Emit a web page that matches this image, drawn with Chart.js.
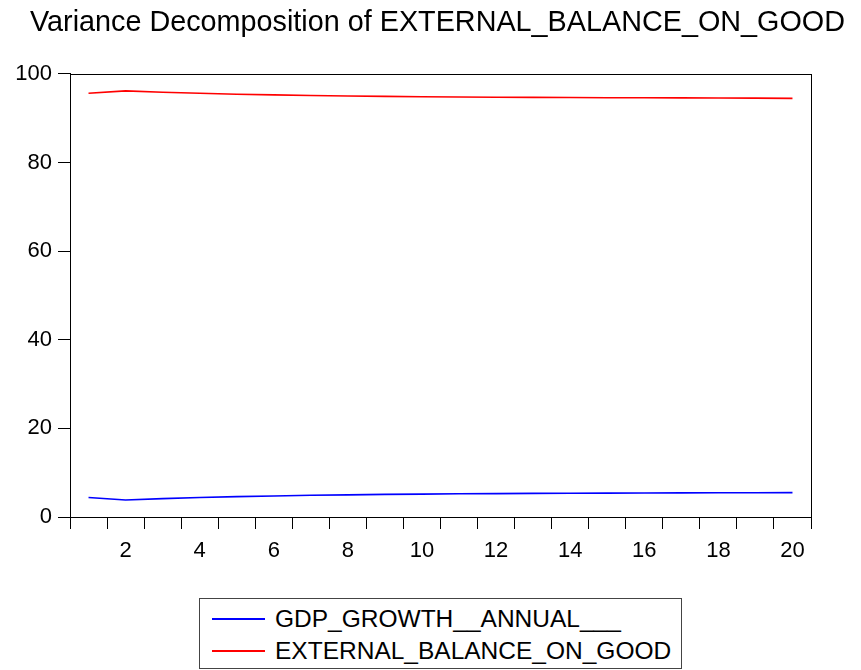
<!DOCTYPE html>
<html>
<head>
<meta charset="utf-8">
<script src="https://cdn.jsdelivr.net/npm/chart.js@4"></script>
<style>
  html, body { margin: 0; padding: 0; background: #fff; }
  #wrap { position: relative; width: 861px; height: 670px; }
  #legend { position: absolute; left: 199px; top: 598px; width: 481px; height: 69px;
            border: 1px solid #444; background: #fff; box-sizing: content-box;
            font-family: "Liberation Sans", Arial, sans-serif; font-size: 24.5px; color: #000; }
  .row { position: absolute; left: 0; height: 32px; line-height: 32px; white-space: nowrap; }
  .sample { position: absolute; left: 12px; top: 15px; width: 53px; height: 0; border-top: 2px solid; }
  .txt { position: absolute; left: 75px; top: 0; }
</style>
</head>
<body>
<div id="wrap">
  <canvas id="c" width="861" height="670"></canvas>
  <div id="legend"></div>
</div>
<script>
const chartTitle = "Variance Decomposition of EXTERNAL_BALANCE_ON_GOOD";
const periods = ["1","2","3","4","5","6","7","8","9","10","11","12","13","14","15","16","17","18","19","20"];
const seriesNames = ["GDP_GROWTH__ANNUAL___", "EXTERNAL_BALANCE_ON_GOOD"];
const seriesColors = ["#0000ff", "#ff0000"];
const gdpGrowth = [4.4, 3.85, 4.15, 4.4, 4.6, 4.75, 4.9, 5.0, 5.1, 5.17, 5.23, 5.28, 5.32, 5.36, 5.39, 5.42, 5.44, 5.46, 5.48, 5.5];
const externalBalance = [95.6, 96.15, 95.85, 95.6, 95.4, 95.25, 95.1, 95.0, 94.9, 94.83, 94.77, 94.72, 94.68, 94.64, 94.61, 94.58, 94.56, 94.54, 94.52, 94.45];
const yTicks = [0, 20, 40, 60, 80, 100];

const FONT = '"Liberation Sans", Arial, sans-serif';

const framePlugin = {
  id: 'frame',
  afterDatasetsDraw(chart) {
    const a = chart.chartArea, ctx = chart.ctx;
    ctx.save();
    ctx.strokeStyle = '#000';
    ctx.lineWidth = 1;
    ctx.strokeRect(Math.round(a.left) + 0.5, Math.round(a.top) + 0.5,
                   Math.round(a.right - a.left), Math.round(a.bottom - a.top));
    ctx.restore();
  }
};

const seriesData = [gdpGrowth, externalBalance];

new Chart(document.getElementById('c'), {
  type: 'line',
  data: {
    labels: periods,
    datasets: seriesNames.map((n, i) => ({
      label: n,
      data: seriesData[i],
      borderColor: seriesColors[i],
      backgroundColor: seriesColors[i],
      borderWidth: 1.6,
      pointRadius: 0,
      tension: 0,
      fill: false,
      yAxisID: 'y'
    }))
  },
  options: {
    responsive: false,
    animation: false,
    layout: { padding: { left: 30, right: 16, top: 0, bottom: 0 } },
    plugins: {
      legend: { display: false },
      tooltip: { enabled: false },
      title: {
        display: true,
        text: chartTitle,
        align: 'start',
        color: '#000',
        font: { family: FONT, size: 29, weight: 'normal' },
        padding: { top: 6, bottom: 33 }
      }
    },
    scales: {
      x: {
        type: 'category',
        offset: true,
        grid: { offset: true, drawOnChartArea: false, drawTicks: true, tickLength: 12, color: '#000', lineWidth: 1 },
        border: { display: true, color: '#000', width: 1 },
        ticks: {
          autoSkip: false, maxRotation: 0, minRotation: 0,
          color: '#000', font: { family: FONT, size: 22 }, padding: 9,
          callback: (v, i) => ((i + 1) % 2 === 0 ? periods[i] : '')
        },
        afterFit: (s) => { s.height = 153; }
      },
      y: {
        min: 0, max: 100,
        afterBuildTicks: (s) => { s.ticks = yTicks.map(v => ({ value: v })); },
        grid: { drawOnChartArea: false, drawTicks: true, tickLength: 12, color: '#000', lineWidth: 1 },
        border: { display: true, color: '#000', width: 1 },
        ticks: { color: '#000', font: { family: FONT, size: 22 }, padding: 6 },
        afterFit: (s) => {
          s.width = 40;
          // let the tick labels extend into the left padding without being clipped
          s._computeLabelArea = () => undefined;
        }
      },
      spacer: {
        type: 'linear',
        position: 'right',
        min: 0, max: 100,
        grid: { display: false, drawTicks: false },
        border: { display: false },
        ticks: { display: false },
        afterFit: (s) => { s.width = 34; }
      }
    }
  },
  plugins: [framePlugin]
});

const leg = document.getElementById('legend');
seriesNames.forEach((n, i) => {
  const row = document.createElement('div');
  row.className = 'row';
  row.style.top = (4 + i * 32) + 'px';
  row.style.width = '100%';
  const s = document.createElement('div');
  s.className = 'sample';
  s.style.borderTopColor = seriesColors[i];
  const t = document.createElement('span');
  t.className = 'txt';
  t.textContent = n;
  row.appendChild(s); row.appendChild(t);
  leg.appendChild(row);
});
</script>
</body>
</html>
